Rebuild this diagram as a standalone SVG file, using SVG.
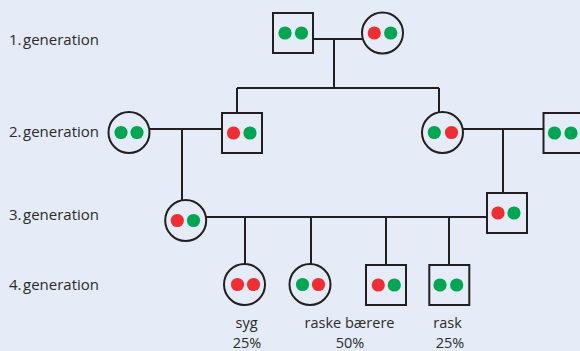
<svg xmlns="http://www.w3.org/2000/svg" width="580" height="351" viewBox="0 0 580 351">
  <style>
    .bg { fill: #e5ecf7; }
    .shape { fill: none; stroke: #231f20; stroke-width: 2; }
    .line { fill: none; stroke: #231f20; stroke-width: 2; }
    .g { fill: #00a651; }
    .r { fill: #ee2e32; }
    .lbl { font-family: "Open Sans", "Liberation Sans", sans-serif; font-size: 14.5px; fill: #2b2b2b; }
    .gen { font-size: 15px; }
    .mid { text-anchor: middle; }
  </style>
  <rect class="bg" x="0" y="0" width="580" height="351"/>

  <!-- generation labels -->
  <g id="labels">
    <text class="lbl gen" x="9" y="45">1.<tspan dx="1.5">generation</tspan></text>
    <text class="lbl gen" x="9" y="137">2.<tspan dx="1.5">generation</tspan></text>
    <text class="lbl gen" x="9" y="220">3.<tspan dx="1.5">generation</tspan></text>
    <text class="lbl gen" x="9" y="290">4.<tspan dx="1.5">generation</tspan></text>
  </g>

  <!-- connectors -->
  <g id="connectors">
    <path class="line" d="M313 39 H362 M334 39 V88 M237 88 H439 M237 88 V113 M439 88 V112"/>
    <path class="line" d="M150 129 H222 M182 129 V200"/>
    <path class="line" d="M463 129 H543 M503 129 V193"/>
    <path class="line" d="M206 217 H487 M245 217 V264 M311 217 V264 M386 217 V265 M449 217 V265"/>
  </g>

  <!-- generation 1 -->
  <g id="g1-father">
    <rect class="shape" x="273" y="13" width="40" height="40"/>
    <circle class="g" cx="285" cy="33" r="6.6"/>
    <circle class="g" cx="301.5" cy="33" r="6.6"/>
  </g>
  <g id="g1-mother">
    <circle class="shape" cx="382.5" cy="33" r="20.5"/>
    <circle class="r" cx="374.3" cy="33" r="6.6"/>
    <circle class="g" cx="390.7" cy="33" r="6.6"/>
  </g>

  <!-- generation 2 -->
  <g id="g2-wife-left">
    <circle class="shape" cx="129" cy="132.5" r="20.5"/>
    <circle class="g" cx="121" cy="132.5" r="6.6"/>
    <circle class="g" cx="137" cy="132.5" r="6.6"/>
  </g>
  <g id="g2-son">
    <rect class="shape" x="222" y="113" width="40" height="40"/>
    <circle class="r" cx="233.5" cy="133" r="6.6"/>
    <circle class="g" cx="250" cy="133" r="6.6"/>
  </g>
  <g id="g2-daughter">
    <circle class="shape" cx="442.5" cy="132.5" r="20.5"/>
    <circle class="g" cx="434.3" cy="132.5" r="6.6"/>
    <circle class="r" cx="451.5" cy="132.5" r="6.6"/>
  </g>
  <g id="g2-husband-right">
    <rect class="shape" x="543.5" y="113" width="40" height="40"/>
    <circle class="g" cx="554.5" cy="133" r="6.6"/>
    <circle class="g" cx="571" cy="133" r="6.6"/>
  </g>

  <!-- generation 3 -->
  <g id="g3-mother">
    <circle class="shape" cx="185.7" cy="220.5" r="20.5"/>
    <circle class="r" cx="177.3" cy="220.5" r="6.6"/>
    <circle class="g" cx="193.5" cy="220.5" r="6.6"/>
  </g>
  <g id="g3-father">
    <rect class="shape" x="487" y="193" width="40" height="40"/>
    <circle class="r" cx="498" cy="213" r="6.6"/>
    <circle class="g" cx="514" cy="213" r="6.6"/>
  </g>

  <!-- generation 4 -->
  <g id="g4-child1">
    <circle class="shape" cx="244.5" cy="284.5" r="20.5"/>
    <circle class="r" cx="237.5" cy="284.5" r="6.6"/>
    <circle class="r" cx="253.5" cy="284.5" r="6.6"/>
  </g>
  <g id="g4-child2">
    <circle class="shape" cx="310" cy="284.5" r="20.5"/>
    <circle class="g" cx="302.5" cy="284.5" r="6.6"/>
    <circle class="r" cx="318.5" cy="284.5" r="6.6"/>
  </g>
  <g id="g4-child3">
    <rect class="shape" x="366" y="265" width="40" height="40"/>
    <circle class="r" cx="378.3" cy="285" r="6.6"/>
    <circle class="g" cx="394.3" cy="285" r="6.6"/>
  </g>
  <g id="g4-child4">
    <rect class="shape" x="429.3" y="265" width="40" height="40"/>
    <circle class="g" cx="440" cy="285" r="6.6"/>
    <circle class="g" cx="456.7" cy="285" r="6.6"/>
  </g>

  <!-- outcome captions -->
  <g id="captions">
    <text class="lbl mid" x="246.5" y="328">syg</text>
    <text class="lbl mid" x="247" y="348">25%</text>
    <text class="lbl mid" x="349.5" y="328">raske bærere</text>
    <text class="lbl mid" x="350" y="348">50%</text>
    <text class="lbl mid" x="447.5" y="328">rask</text>
    <text class="lbl mid" x="450" y="348">25%</text>
  </g>
</svg>
